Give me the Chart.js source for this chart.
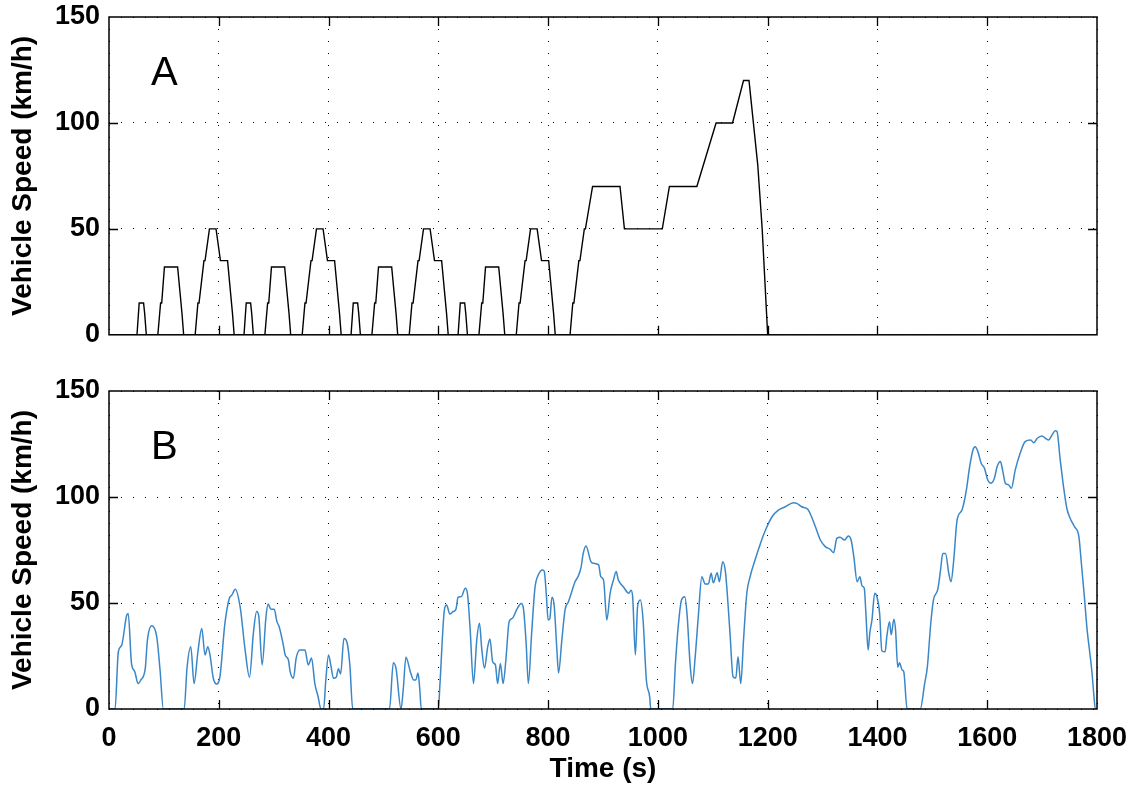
<!DOCTYPE html>
<html><head><meta charset="utf-8">
<script src="https://cdn.jsdelivr.net/npm/chart.js@4.4.1/dist/chart.umd.min.js"></script>
<style>
html,body{margin:0;padding:0;background:#fff;overflow:hidden;width:1133px;height:787px;position:relative}
canvas{position:absolute;left:0}
#c1{top:-20px;width:1173px;height:380px}
#c2{top:350px;width:1173px;height:437px}
</style></head><body>
<canvas id="c1" width="1173" height="380"></canvas>
<canvas id="c2" width="1173" height="437"></canvas>
<script>
// ---- data ----
const xTicks = [0, 200, 400, 600, 800, 1000, 1200, 1400, 1600, 1800];
const yTicks = [0, 50, 100, 150];
const panelLabels = ['A', 'B'];
const yTitle = 'Vehicle Speed (km/h)';
const xTitle = 'Time (s)';

// Panel A: NEDC (4 x ECE-15 + EUDC), breakpoints
const nedcTime = [0,
  51,55,63,65,68,89,94,96,101,125,133,136,157,162,164,173,175,183,195,203,216,225,228,
  246,250,258,260,263,284,289,291,296,320,328,331,352,357,359,368,370,378,390,398,411,420,423,
  441,445,453,455,458,479,484,486,491,515,523,526,547,552,554,563,565,573,585,593,606,615,618,
  636,640,648,650,653,674,679,681,686,710,718,721,742,747,749,758,760,768,780,788,801,810,813,
  840,845,847,856,858,866,868,881,931,939,1008,1021,1071,1106,1136,1156,1166,1182,1190,1200];
const nedcSpeed = [0,
  0,15,15,10,0,0,15,15,32,32,10,0,0,15,15,35,35,50,50,35,35,10,0,
  0,15,15,10,0,0,15,15,32,32,10,0,0,15,15,35,35,50,50,35,35,10,0,
  0,15,15,10,0,0,15,15,32,32,10,0,0,15,15,35,35,50,50,35,35,10,0,
  0,15,15,10,0,0,15,15,32,32,10,0,0,15,15,35,35,50,50,35,35,10,0,
  0,15,15,35,35,50,50,70,70,50,50,70,70,100,100,120,120,80,50,0];

// Panel B: WLTC class 3
const wltcTime = [0,11,17,23,32,35,41,47,53,58,66,70,78,87,93,99,137,142,149,155,162,169,175,180,184,190,196,202,211,219,224,230,239,248,256,263,269,273,279,286,290,295,301,306,310,317,321,327,330,336,341,348,357,363,369,375,381,386,391,395,400,404,409,414,418,422,428,434,439,444,511,518,523,532,536,541,549,555,559,563,566,569,600,603,611,615,621,627,632,636,642,649,653,658,664,670,675,679,684,690,694,699,704,708,713,718,723,729,735,743,751,755,760,764,770,776,782,790,793,797,800,803,807,811,816,819,825,831,837,843,849,855,860,864,869,878,883,892,896,901,907,913,919,924,928,937,947,951,954,959,963,968,973,979,985,987,1027,1032,1037,1043,1049,1053,1059,1063,1068,1074,1080,1086,1092,1097,1101,1108,1112,1118,1123,1131,1137,1142,1146,1151,1156,1162,1168,1177,1187,1197,1208,1220,1232,1247,1253,1262,1273,1281,1287,1296,1305,1314,1320,1326,1332,1340,1347,1352,1357,1363,1368,1372,1376,1379,1383,1386,1390,1395,1399,1404,1408,1414,1417,1422,1425,1430,1433,1437,1440,1445,1448,1454,1478,1486,1491,1497,1502,1510,1515,1519,1524,1530,1534,1539,1545,1554,1562,1568,1574,1578,1583,1589,1595,1601,1607,1613,1618,1624,1628,1633,1639,1644,1651,1660,1669,1679,1685,1691,1700,1706,1712,1718,1724,1727,1733,1739,1745,1751,1759,1767,1771,1777,1782,1787,1791,1794,1797,1800];
const wltcSpeed = [0,0,27,30,44,45,21.5,17.6,12,13.7,19,32.5,39.3,34,18.4,0,0,19,29.4,12,27,38,25.5,29.4,25.5,14.5,11.8,15,40,52,53.8,56.5,48,27.8,15,35.7,46,43.5,20.8,43.5,49.5,47,47,41.2,38.8,31,25.5,23,17.6,14.5,24,27.8,27.8,20.8,24,12,5.8,0,0,13.7,25.5,20.8,14.5,15,19,16.5,33.3,31,20,0,0,21.8,19,0,9,24.4,17.6,13.7,13.7,17,10,0,0,12,46.7,49,44.8,46,47,52.7,53,57,54.6,37.3,12,32.5,40.4,28.6,19.2,29.4,33,22.3,20.8,12,21.5,12,23,41.2,42.8,47,49.8,47.5,31,12,35.7,57,63.2,65.6,65,53,42,42.5,52.7,49,27.8,17,32.5,47,50.6,55.3,60,62.7,66.8,73.4,76.9,69.5,68.7,68,62.4,60.8,42,54.6,60.8,64.8,60.8,57.7,54.6,56,53,25.5,48.3,51.4,42,13.7,5.8,0,0,21.5,38.8,51.4,53,45,20,12,24.7,45,62.4,59,59,64,59.5,64.3,60,69.5,64.8,37.3,15.2,14.6,24.7,12,32.5,54.6,62.4,70.3,78.2,85,90.7,93.9,95.4,97.3,97,95.4,94.2,90,86,79.7,76.6,75.3,73.7,80.5,81,79.7,81.6,79.7,71.8,60,62.4,58,57,45,27.8,35.7,42,54.6,53,45,27.5,27,34,41.2,35,42.3,37.3,19.7,21.8,18.4,17.6,0,0,12,20,40,51.4,56.5,65.6,73.4,73.4,64,60,70.3,89,93.9,103.3,114.3,122.2,123.7,121.4,115.9,113.5,108,106.5,108.8,114.3,116.7,112.7,106.5,105.7,104.1,112.7,120.6,126.1,126.9,125.6,127.7,128.8,127.7,126.9,129.2,131.3,131,117.5,104.9,94.7,90,86,81.3,70.3,53,37.3,26.3,16.8,7.4,0,0];

// ---- rendering ----
const FONT = '"Liberation Sans", Arial, Helvetica, sans-serif';
Chart.defaults.font.family = FONT;
Chart.defaults.color = '#000';

const framePlugin = {
  id: 'frame',
  afterDatasetsDraw(chart, args, opts) {
    const {ctx, chartArea: a, scales} = chart;
    ctx.save();
    ctx.strokeStyle = '#000';
    ctx.lineWidth = 1.5;
    ctx.strokeRect(a.left, a.top, a.right - a.left, a.bottom - a.top);
    const tl = 9;
    ctx.lineWidth = 1.3;
    ctx.beginPath();
    const sx = scales.x, sy = scales.y;
    sx.ticks.forEach(t => {
      if (t.value <= sx.min || t.value >= sx.max) return;
      const p = Math.round(sx.getPixelForValue(t.value)) + 0.5;
      ctx.moveTo(p, a.bottom); ctx.lineTo(p, a.bottom - tl);
      ctx.moveTo(p, a.top); ctx.lineTo(p, a.top + tl);
    });
    sy.ticks.forEach(t => {
      if (t.value <= sy.min || t.value >= sy.max) return;
      const p = Math.round(sy.getPixelForValue(t.value)) + 0.5;
      ctx.moveTo(a.left, p); ctx.lineTo(a.left + tl, p);
      ctx.moveTo(a.right, p); ctx.lineTo(a.right - tl, p);
    });
    ctx.stroke();
    ctx.fillStyle = '#000';
    ctx.font = '40px ' + FONT;
    ctx.textBaseline = 'alphabetic';
    ctx.textAlign = 'left';
    ctx.fillText(opts.letter, a.left + 42, a.top + 68);
    ctx.restore();
  }
};

function makeChart(id, times, speeds, color, opt) {
  const pts = times.map((t, i) => ({x: t, y: speeds[i]}));
  return new Chart(document.getElementById(id), {
    type: 'line',
    data: {datasets: [{
      data: pts,
      borderColor: color,
      borderWidth: opt.lw,
      pointRadius: 0,
      fill: false,
      tension: opt.smooth ? 0.4 : 0,
      cubicInterpolationMode: opt.smooth ? 'monotone' : 'default'
    }]},
    options: {
      responsive: false,
      animation: false,
      events: [],
      layout: {padding: {left: 0, right: 76, top: opt.top, bottom: 0}},
      plugins: {legend: {display: false}, tooltip: {enabled: false}, frame: {letter: opt.letter}},
      scales: {
        x: {
          type: 'linear', min: 0, max: 1800,
          afterBuildTicks: s => { s.ticks = xTicks.map(v => ({value: v})); },
          afterFit: s => { s.height = opt.xh; },
          grid: {color: '#000', lineWidth: 1, drawTicks: false},
          border: {display: false, dash: [1, 11]},
          ticks: {display: opt.xlabels, autoSkip: false, maxRotation: 0, padding: 13,
                  callback: v => String(v),
                  font: {size: 27, weight: 'bold'}, color: '#000'},
          title: {display: opt.xlabels, text: xTitle, font: {size: 28, weight: 'bold'},
                  color: '#000', padding: {top: 0, bottom: 1}}
        },
        y: {
          min: 0, max: 150,
          afterBuildTicks: s => { s.ticks = yTicks.map(v => ({value: v})); },
          afterFit: s => { s.width = 109; },
          grid: {color: '#000', lineWidth: 1, drawTicks: false},
          border: {display: false, dash: [1, 11]},
          ticks: {padding: 9, callback: v => String(v), font: {size: 27, weight: 'bold'}, color: '#000'},
          title: {display: true, text: yTitle, font: {size: 28, weight: 'bold'},
                  color: '#000', padding: {top: 6, bottom: 0}}
        }
      }
    },
    plugins: [framePlugin]
  });
}

makeChart('c1', nedcTime, nedcSpeed, '#000000', {top: 37, xh: 25, xlabels: false, letter: panelLabels[0], lw: 1.4, smooth: false});
makeChart('c2', wltcTime, wltcSpeed, '#3a87c8', {top: 41, xh: 78, xlabels: true, letter: panelLabels[1], lw: 1.5, smooth: true});
</script>
</body></html>
